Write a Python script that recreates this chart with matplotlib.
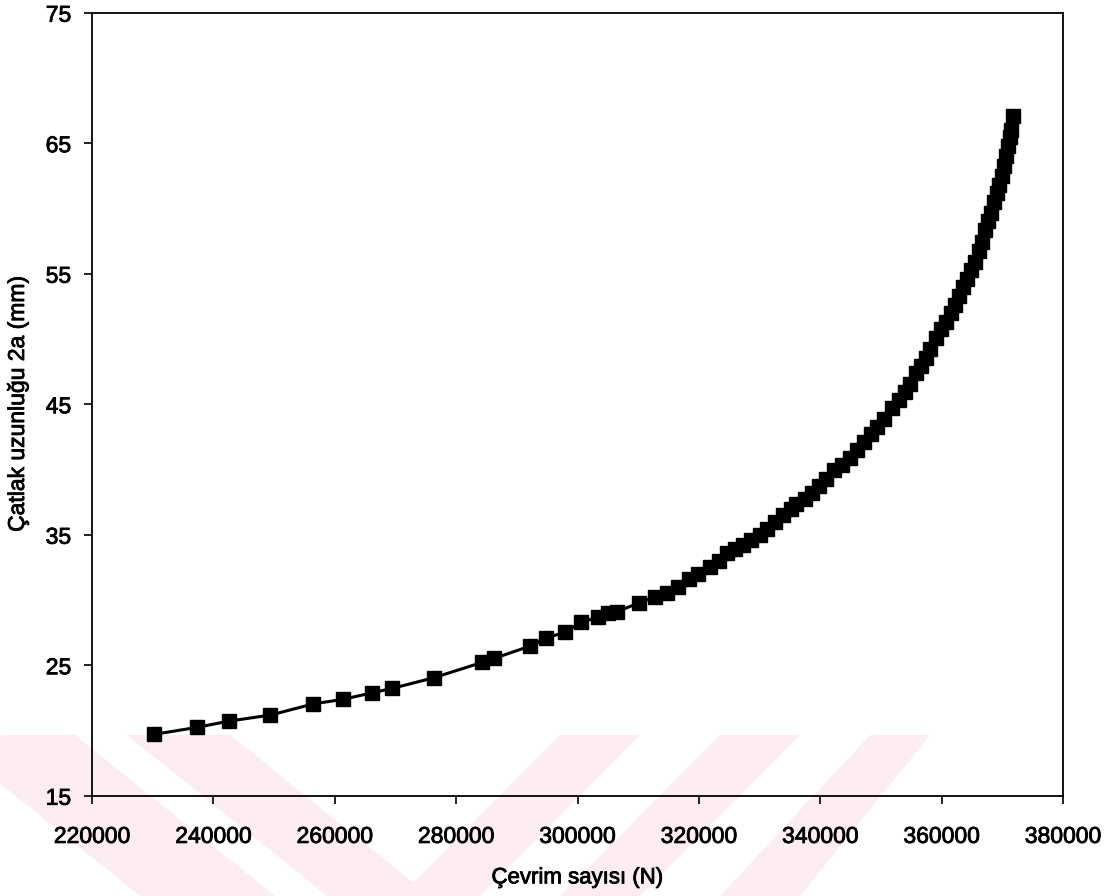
import matplotlib
matplotlib.use("Agg")
import matplotlib.pyplot as plt
import matplotlib.patheffects as pe
from matplotlib.ticker import FixedLocator
from matplotlib.patches import Polygon

plt.rcParams['font.family'] = ['Liberation Sans', 'DejaVu Sans']

# Crack length 2a (mm) versus number of cycles N
cycles = [
    230200, 237300, 242600, 249400, 256400, 261400, 266200, 269500, 276300,
    284300, 286300, 292200, 294800, 297900, 300600, 303300, 305000, 306500,
    310200, 312700, 314800, 316500, 318300, 319800, 321800, 323300, 324600,
    326000, 327300, 328600, 330000, 331300, 332600, 333900, 335100, 336000,
    337400, 338700, 339800, 341000, 342300, 343500, 344900, 346100, 347200,
    348400, 349400, 350500, 351800, 353000, 354000, 354800, 355800, 356600,
    357400, 358100, 359100, 359900, 360700, 361600, 362200, 362900, 363500,
    364200, 364800, 365500, 366200, 366700, 367200, 367600, 368100, 368600,
    369100, 369500, 370000, 370300, 370600, 370900, 371300, 371400, 371800,
]
crack_len = [
    19.70, 20.24, 20.72, 21.18, 22.03, 22.39, 22.89, 23.23, 24.04,
    25.22, 25.53, 26.47, 27.08, 27.52, 28.29, 28.67, 28.98, 29.10,
    29.79, 30.25, 30.56, 30.97, 31.61, 31.97, 32.50, 32.98, 33.57,
    33.90, 34.21, 34.59, 34.98, 35.44, 35.97, 36.51, 36.97, 37.35,
    37.74, 38.20, 38.73, 39.27, 39.96, 40.34, 40.88, 41.49, 42.10,
    42.72, 43.25, 43.87, 44.71, 45.32, 45.93, 46.55, 47.39, 47.93,
    48.54, 49.23, 50.07, 50.76, 51.30, 51.99, 52.60, 53.29, 53.98,
    54.59, 55.28, 55.90, 56.74, 57.43, 58.35, 59.04, 59.65, 60.49,
    61.18, 61.80, 62.49, 63.25, 64.02, 64.79, 65.48, 66.01, 67.08,
]

x_ticks = [220000, 240000, 260000, 280000, 300000, 320000, 340000, 360000, 380000]
y_ticks = [15, 25, 35, 45, 55, 65, 75]

W, H = 1119, 896
fig = plt.figure(figsize=(W / 100, H / 100), dpi=100)

# pale diagonal stripes along the bottom of the page (pixel coords, y down)
stripe_color = '#fdedf0'
stripes = [
    [(-60, 735), (0, 735), (200, 896), (140, 896)],
    [(0, 735), (75, 735), (275, 896), (200, 896)],
    [(127, 735), (230, 735), (430, 896), (327, 896)],
    [(560, 735), (640, 735), (480, 896), (400, 896)],
    [(720, 735), (800, 735), (640, 896), (560, 896)],
    [(870, 735), (930, 735), (800, 896), (720, 896)],
]
for pts in stripes:
    fig.add_artist(Polygon([(px / W, 1 - py / H) for px, py in pts],
                           closed=True, transform=fig.transFigure,
                           facecolor=stripe_color, edgecolor='none',
                           zorder=-5))

ax = fig.add_axes([0.0822, 0.1119, 0.8678, 0.8739])
ax.set_zorder(2)
ax.patch.set_alpha(0)

ax.plot(cycles, crack_len, color='black', linewidth=2.2,
        marker='s', markersize=9.5, markerfacecolor='black',
        markeredgecolor='black', zorder=3)

ax.set_xlim(220000, 380000)
ax.set_ylim(15, 75)
ax.xaxis.set_major_locator(FixedLocator(x_ticks))
ax.yaxis.set_major_locator(FixedLocator(y_ticks))
ax.set_xticklabels([str(v) for v in x_ticks])
ax.set_yticklabels([str(v) for v in y_ticks])

ax.tick_params(axis='x', direction='out', length=6, width=1.2,
               pad=15, labelsize=16.5, colors='black')
ax.tick_params(axis='y', direction='out', length=6, width=1.2,
               pad=9, labelsize=16.5, colors='black')

for side in ['left', 'right', 'top', 'bottom']:
    ax.spines[side].set_linewidth(1.3)
    ax.spines[side].set_color('black')

ax.set_xlabel('Çevrim sayısı (N)', fontsize=16, labelpad=14)
ax.set_ylabel('Çatlak uzunluğu 2a (mm)', fontsize=16.5, labelpad=12)

# slightly heavier glyphs for all text
heavy = [pe.withStroke(linewidth=0.6, foreground='black')]
for t in ax.get_xticklabels() + ax.get_yticklabels() + [ax.xaxis.label, ax.yaxis.label]:
    t.set_path_effects(heavy)

fig.savefig('out.png', dpi=100)
